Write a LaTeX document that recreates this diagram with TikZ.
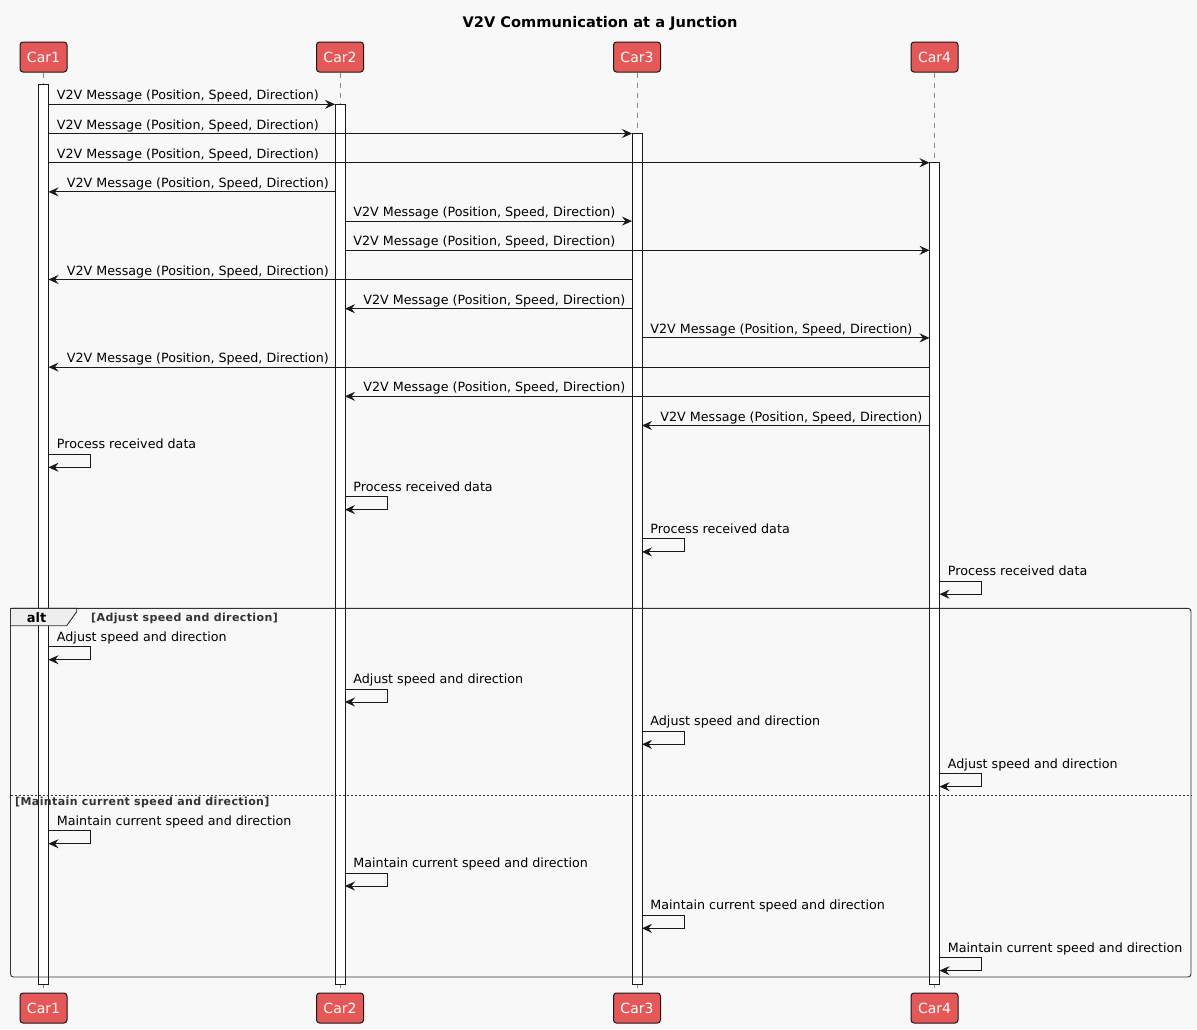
\documentclass[tikz,border=0pt]{standalone}
\usepackage{fontspec}
\setmainfont{DejaVu Sans}
\usetikzlibrary{arrows.meta}

\definecolor{carred}{RGB}{229,88,88}
\definecolor{paper}{RGB}{248,248,248}
\definecolor{tabgray}{RGB}{238,238,238}

\tikzset{car/.style={draw=black!90, fill=carred, text=white, rounded corners=3pt, minimum width=47pt, minimum height=30pt, inner sep=0pt, line width=1pt, font=\fontsize{14}{16}\selectfont}}
\tikzset{act/.style={draw=black!90, fill=white, minimum width=10pt, inner sep=0pt, outer sep=0pt, line width=0.8pt, anchor=north}}
\tikzset{life/.style={draw=black!45, dash pattern=on 5pt off 5pt, line width=0.7pt}}
\tikzset{msg/.style={-{Stealth[length=10pt, width=9pt, inset=3.5pt]}, line width=0.9pt, draw=black!90}}
\tikzset{lbl/.style={font=\fontsize{12.7}{15}\selectfont, inner sep=0pt, anchor=base west}}
\tikzset{guard/.style={font=\bfseries\fontsize{11}{13}\selectfont\addfontfeatures{LetterSpace=3.6}, text=black!80, inner sep=0pt, anchor=base west}}

\begin{document}
\begin{tikzpicture}[x=1pt, y=-1pt]
    \fill[paper] (0,0) rectangle (1197,1029);
    \useasboundingbox (0,0) rectangle (1197,1029);

    \node[font=\bfseries\fontsize{14.6}{16}\selectfont, anchor=base] (title) at (600,27) {V2V Communication at a Junction};

    \node[car] (car1) at (43.5,57) {Car1};
    \node[car] (car2) at (340,57) {Car2};
    \node[car] (car3) at (637,57) {Car3};
    \node[car] (car4) at (934.5,57) {Car4};

    \node[car] (car1b) at (43.5,1008) {Car1};
    \node[car] (car2b) at (340,1008) {Car2};
    \node[car] (car3b) at (637,1008) {Car3};
    \node[car] (car4b) at (934.5,1008) {Car4};

    \draw[life] (car1) -- (car1b);
    \draw[life] (car2) -- (car2b);
    \draw[life] (car3) -- (car3b);
    \draw[life] (car4) -- (car4b);

    \node[act, minimum height=900pt] (act1) at (43.5,84) {};
    \node[act, minimum height=879.7pt] (act2) at (340,104.3) {};
    \node[act, minimum height=850.5pt] (act3) at (637,133.5) {};
    \node[act, minimum height=821.3pt] (act4) at (934.5,162.7) {};

    % message rows
    \coordinate (m1) at (0,104.3);
    \coordinate (m2) at (0,133.5);
    \coordinate (m3) at (0,162.7);
    \coordinate (m4) at (0,191.9);
    \coordinate (m5) at (0,221.1);
    \coordinate (m6) at (0,250.3);
    \coordinate (m7) at (0,279.5);
    \coordinate (m8) at (0,308.7);
    \coordinate (m9) at (0,337.9);
    \coordinate (m10) at (0,367.1);
    \coordinate (m11) at (0,396.3);
    \coordinate (m12) at (0,425.5);

    \draw[msg] (act1.east |- m1) -- (act2.west |- m1) node[lbl, pos=0, xshift=8pt, yshift=4.5pt] (t1) {V2V Message (Position, Speed, Direction)};
    \draw[msg] (act1.east |- m2) -- (act3.west |- m2) node[lbl, pos=0, xshift=8pt, yshift=4.5pt] (t2) {V2V Message (Position, Speed, Direction)};
    \draw[msg] (act1.east |- m3) -- (act4.west |- m3) node[lbl, pos=0, xshift=8pt, yshift=4.5pt] (t3) {V2V Message (Position, Speed, Direction)};
    \draw[msg] (act2.west |- m4) -- (act1.east |- m4) node[lbl, pos=1, xshift=18pt, yshift=4.5pt] (t4) {V2V Message (Position, Speed, Direction)};
    \draw[msg] (act2.east |- m5) -- (act3.west |- m5) node[lbl, pos=0, xshift=8pt, yshift=4.5pt] (t5) {V2V Message (Position, Speed, Direction)};
    \draw[msg] (act2.east |- m6) -- (act4.west |- m6) node[lbl, pos=0, xshift=8pt, yshift=4.5pt] (t6) {V2V Message (Position, Speed, Direction)};
    \draw[msg] (act3.west |- m7) -- (act1.east |- m7) node[lbl, pos=1, xshift=18pt, yshift=4.5pt] (t7) {V2V Message (Position, Speed, Direction)};
    \draw[msg] (act3.west |- m8) -- (act2.east |- m8) node[lbl, pos=1, xshift=18pt, yshift=4.5pt] (t8) {V2V Message (Position, Speed, Direction)};
    \draw[msg] (act3.east |- m9) -- (act4.west |- m9) node[lbl, pos=0, xshift=8pt, yshift=4.5pt] (t9) {V2V Message (Position, Speed, Direction)};
    \draw[msg] (act4.west |- m10) -- (act1.east |- m10) node[lbl, pos=1, xshift=18pt, yshift=4.5pt] (t10) {V2V Message (Position, Speed, Direction)};
    \draw[msg] (act4.west |- m11) -- (act2.east |- m11) node[lbl, pos=1, xshift=18pt, yshift=4.5pt] (t11) {V2V Message (Position, Speed, Direction)};
    \draw[msg] (act4.west |- m12) -- (act3.east |- m12) node[lbl, pos=1, xshift=18pt, yshift=4.5pt] (t12) {V2V Message (Position, Speed, Direction)};

    % self messages
    \coordinate (s1) at (0,454.3);
    \coordinate (s2) at (0,496.6);
    \coordinate (s3) at (0,538.9);
    \coordinate (s4) at (0,581.2);
    \coordinate (s5) at (0,646.7);
    \coordinate (s6) at (0,689);
    \coordinate (s7) at (0,731.3);
    \coordinate (s8) at (0,773.6);
    \coordinate (s9) at (0,830.7);
    \coordinate (s10) at (0,873);
    \coordinate (s11) at (0,915.3);
    \coordinate (s12) at (0,957.6);

    \draw[msg] (act1.east |- s1) node[lbl, xshift=8pt, yshift=5.5pt] (p1) {Process received data} -- ++(42,0) -- ++(0,13) -- ++(-42,0);
    \draw[msg] (act2.east |- s2) node[lbl, xshift=8pt, yshift=5.5pt] (p2) {Process received data} -- ++(42,0) -- ++(0,13) -- ++(-42,0);
    \draw[msg] (act3.east |- s3) node[lbl, xshift=8pt, yshift=5.5pt] (p3) {Process received data} -- ++(42,0) -- ++(0,13) -- ++(-42,0);
    \draw[msg] (act4.east |- s4) node[lbl, xshift=8pt, yshift=5.5pt] (p4) {Process received data} -- ++(42,0) -- ++(0,13) -- ++(-42,0);

    % alt frame
    \draw[line width=0.9pt, draw=black!80, rounded corners=3pt] (10.5,608.3) rectangle (1191,977);
    \draw[line width=0.9pt, draw=black!80, fill=tabgray] (10.5,608.3) -- (76.7,608.3) -- (76.7,611.7) -- (66.7,625.7) -- (10.5,625.7) -- cycle;
    \node[font=\bfseries\fontsize{13}{15}\selectfont, anchor=base, inner sep=0pt] (alt) at (36.5,622) {alt};
    \node[guard] (g1) at (91,621) {[Adjust speed and direction]};
    \draw[line width=0.7pt, draw=black!80, dash pattern=on 2pt off 2pt] (10.5,795) -- (1191,795);
    \node[guard] (g2) at (15,805.3) {[Maintain current speed and direction]};

    \draw[msg] (act1.east |- s5) node[lbl, xshift=8pt, yshift=5.5pt] (a1) {Adjust speed and direction} -- ++(42,0) -- ++(0,13) -- ++(-42,0);
    \draw[msg] (act2.east |- s6) node[lbl, xshift=8pt, yshift=5.5pt] (a2) {Adjust speed and direction} -- ++(42,0) -- ++(0,13) -- ++(-42,0);
    \draw[msg] (act3.east |- s7) node[lbl, xshift=8pt, yshift=5.5pt] (a3) {Adjust speed and direction} -- ++(42,0) -- ++(0,13) -- ++(-42,0);
    \draw[msg] (act4.east |- s8) node[lbl, xshift=8pt, yshift=5.5pt] (a4) {Adjust speed and direction} -- ++(42,0) -- ++(0,13) -- ++(-42,0);

    \draw[msg] (act1.east |- s9) node[lbl, xshift=8pt, yshift=5.5pt] (k1) {Maintain current speed and direction} -- ++(42,0) -- ++(0,13) -- ++(-42,0);
    \draw[msg] (act2.east |- s10) node[lbl, xshift=8pt, yshift=5.5pt] (k2) {Maintain current speed and direction} -- ++(42,0) -- ++(0,13) -- ++(-42,0);
    \draw[msg] (act3.east |- s11) node[lbl, xshift=8pt, yshift=5.5pt] (k3) {Maintain current speed and direction} -- ++(42,0) -- ++(0,13) -- ++(-42,0);
    \draw[msg] (act4.east |- s12) node[lbl, xshift=8pt, yshift=5.5pt] (k4) {Maintain current speed and direction} -- ++(42,0) -- ++(0,13) -- ++(-42,0);
\end{tikzpicture}
\end{document}
